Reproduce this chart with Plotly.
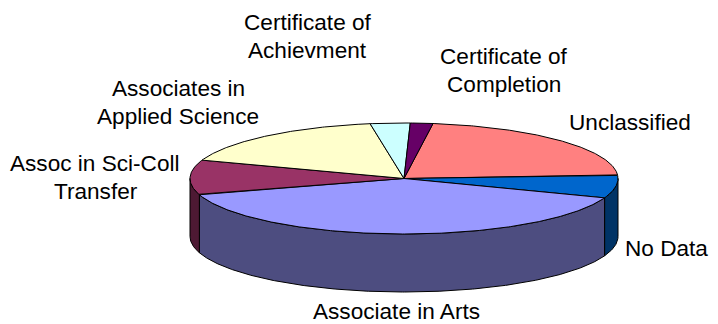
# 3D-look pie chart of degree types
import numpy as np
import plotly.graph_objects as go

categories = ['Unclassified', 'No Data', 'Associate in Arts', 'Assoc in Sci-Coll Transfer',
              'Associates in Applied Science', 'Certificate of Achievment', 'Certificate of Completion']
shares = [21.8, 6.7, 39.6, 10.1, 17.1, 3.0, 1.7]
top_colors = ['#FF8080', '#0066CC', '#9999FF', '#993366', '#FFFFCC', '#CCFFFF', '#660066']
side_colors = ['#804040', '#003366', '#4D4D80', '#4D1933', '#808066', '#668080', '#330033']

# pie geometry in pixels (plotly axes are set to the page size below)
cx, cy = 404, 178.5
rx, ry = 214, 55.5
depth = 58
start_angle = 82.2


def arc(t0, t1, drop=0):
    t = np.radians(np.linspace(t0, t1, max(int(abs(t1 - t0)) * 2, 2)))
    return cx + rx * np.cos(t), cy - ry * np.sin(t) + drop


sweeps = np.array(shares) / sum(shares) * 360
ends = start_angle - np.cumsum(sweeps)
starts = ends + sweeps

fig = go.Figure()

# sides first, only the part of each slice that faces the viewer
for name, s, e, color in zip(categories, starts, ends, side_colors):
    for turn in (0, -360):
        hi = min(s + turn, 0)
        lo = max(e + turn, -180)
        if hi <= lo:
            continue
        x1, y1 = arc(hi, lo)
        x2, y2 = arc(lo, hi, depth)
        fig.add_trace(go.Scatter(
            x=np.concatenate([x1, x2, x1[:1]]),
            y=np.concatenate([y1, y2, y1[:1]]),
            mode='lines', fill='toself', fillcolor=color,
            line=dict(color='black', width=1), name=name, showlegend=False,
        ))

# top face
for name, s, e, color in zip(categories, starts, ends, top_colors):
    x, y = arc(s, e)
    fig.add_trace(go.Scatter(
        x=np.concatenate([[cx], x, [cx]]),
        y=np.concatenate([[cy], y, [cy]]),
        mode='lines', fill='toself', fillcolor=color,
        line=dict(color='black', width=1), name=name, showlegend=False,
    ))

# one entry per text line: the line gap is wider than plotly's own <br> spacing
label_lines = [
    ('Certificate of', 307.5, 22), ('Achievment', 307.5, 50),
    ('Certificate of', 504, 56), ('Completion', 504, 84),
    ('Associates in', 178, 88), ('Applied Science', 178, 116),
    ('Assoc in Sci-Coll', 95, 163), ('Transfer', 95.5, 191),
    ('Unclassified', 629.5, 122), ('No Data', 666.5, 248), ('Associate in Arts', 396, 311),
]
for text, x, y in label_lines:
    fig.add_annotation(x=x, y=y, text=text, showarrow=False, xanchor='center', yanchor='middle',
                       borderpad=0, font=dict(family='Liberation Sans', size=22.6, color='black'))

fig.update_layout(
    width=718, height=324,
    margin=dict(l=0, r=0, t=0, b=0),
    paper_bgcolor='white', plot_bgcolor='white',
    xaxis=dict(range=[0, 718], visible=False, fixedrange=True),
    yaxis=dict(range=[324, 0], visible=False, fixedrange=True),
    showlegend=False,
)

# the browser's default body margin would push the figure 8px off
fig.write_html("out.html", config=dict(displayModeBar=False),
               post_script="document.body.style.margin='0';")
